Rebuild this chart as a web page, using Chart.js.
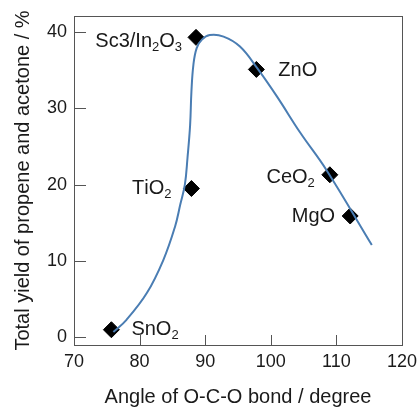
<!DOCTYPE html>
<html>
<head>
<meta charset="utf-8">
<script src="https://cdn.jsdelivr.net/npm/chart.js@4"></script>
<style>
  html, body { margin: 0; padding: 0; background: #fff; }
</style>
</head>
<body>
<canvas id="chart" width="418" height="407"></canvas>
<script>
// catalyst points ("_" marks a subscript character)
const catalysts = ['SnO_2', 'TiO_2', 'Sc3/In_2O_3', 'ZnO', 'CeO_2', 'MgO'];
const angles = [75.7, 87.9, 88.6, 97.8, 109.0, 112.1];
const yields = [1.0, 19.5, 39.3, 35.1, 21.3, 15.9];

// guide curve
const fitAngles = [76.0, 78.0, 81.1, 83.6, 85.4, 86.2, 86.9, 87.3, 87.7, 87.9, 88.2, 88.7, 89.5, 90.7, 92.8, 95.3, 97.9, 100.9, 104.5, 108.5, 115.4];
const fitYields = [0.7, 2.3, 5.8, 10.1, 14.5, 17.4, 20.0, 23.5, 27.8, 32.2, 35.7, 37.9, 39.0, 39.6, 39.4, 38.1, 35.3, 31.6, 26.8, 21.9, 12.1];

const xTicks = [70, 80, 90, 100, 110, 120];
const yTicks = [0, 10, 20, 30, 40];

const axisColor = '#555555';
const textColor = '#1a1a1a';
const fontFamily = '"Liberation Sans", Arial, sans-serif';

// draws frame + inward tick marks
const framePlugin = {
    id: 'frame',
    afterDraw(chart) {
        const { ctx, chartArea: a, scales } = chart;
        ctx.save();
        ctx.strokeStyle = axisColor;
        ctx.lineWidth = 1;
        ctx.beginPath();
        yTicks.forEach(v => {
            const py = Math.round(scales.y.getPixelForValue(v)) + 0.5;
            ctx.moveTo(a.left, py);
            ctx.lineTo(a.left + 12, py);
        });
        xTicks.forEach(v => {
            const px = Math.round(scales.x.getPixelForValue(v)) + 0.5;
            if (px <= a.left + 1 || px >= a.right - 1) return;
            ctx.moveTo(px, a.bottom);
            ctx.lineTo(px, a.bottom - 10);
        });
        ctx.stroke();
        ctx.strokeRect(Math.round(a.left) + 0.5, Math.round(a.top) + 0.5,
            Math.round(a.right - a.left), Math.round(a.bottom - a.top));
        ctx.restore();
    }
};

// point labels with subscripts
const labelPlugin = {
    id: 'pointLabels',
    afterDatasetsDraw(chart, args, opts) {
        const { ctx } = chart;
        const meta = chart.getDatasetMeta(1);
        const size = 20, subSize = 13;
        ctx.save();
        ctx.fillStyle = textColor;
        ctx.textBaseline = 'alphabetic';
        ctx.textAlign = 'left';
        meta.data.forEach((pt, i) => {
            const parts = [];
            const s = catalysts[i];
            for (let k = 0; k < s.length; k++) {
                if (s[k] === '_') { parts.push({ t: s[k + 1], sub: true }); k++; }
                else parts.push({ t: s[k], sub: false });
            }
            let w = 0;
            parts.forEach(p => {
                ctx.font = (p.sub ? subSize : size) + 'px ' + fontFamily;
                p.w = ctx.measureText(p.t).width;
                w += p.w;
            });
            const o = opts.place[i];
            let x = o.align === 'right' ? pt.x + o.dx - w : pt.x + o.dx;
            const base = pt.y + o.dy + 7;
            parts.forEach(p => {
                ctx.font = (p.sub ? subSize : size) + 'px ' + fontFamily;
                ctx.fillText(p.t, x, p.sub ? base + 4 : base);
                x += p.w;
            });
        });
        ctx.restore();
    }
};

const config = {
    type: 'scatter',
    data: {
        datasets: [
            {
                label: 'fit',
                data: fitAngles.map((x, i) => ({ x: x, y: fitYields[i] })),
                showLine: true,
                borderColor: '#4a7db3',
                borderWidth: 2,
                pointRadius: 0,
                tension: 0.4,
                order: 0
            },
            {
                label: 'catalysts',
                data: angles.map((x, i) => ({ x: x, y: yields[i] })),
                pointStyle: 'rectRot',
                pointRadius: 8,
                pointBackgroundColor: '#000',
                pointBorderColor: '#000',
                pointBorderWidth: 1,
                order: 1
            }
        ]
    },
    options: {
        responsive: false,
        animation: false,
        layout: { autoPadding: false, padding: { top: 16, right: 16, left: 0, bottom: 0 } },
        plugins: {
            legend: { display: false },
            tooltip: { enabled: false },
            pointLabels: {
                place: [
                    { align: 'left', dx: 20, dy: -2 },
                    { align: 'right', dx: -20, dy: -2 },
                    { align: 'right', dx: -14, dy: 3 },
                    { align: 'left', dx: 22, dy: 0 },
                    { align: 'right', dx: -15, dy: 1 },
                    { align: 'right', dx: -15, dy: -1 }
                ]
            }
        },
        scales: {
            x: {
                type: 'linear',
                min: 70,
                max: 120,
                afterBuildTicks: s => { s.ticks = xTicks.map(v => ({ value: v })); },
                afterFit: s => { s.height = 62; s.paddingLeft = 0; s.paddingRight = 0; },
                grid: { display: false, drawTicks: false },
                border: { display: false },
                ticks: { padding: 6, color: textColor, font: { family: fontFamily, size: 18 } },
                title: {
                    display: true,
                    text: 'Angle of O-C-O bond / degree',
                    color: textColor,
                    font: { family: fontFamily, size: 20 },
                    padding: { top: 0, bottom: -2 }
                }
            },
            y: {
                type: 'linear',
                min: -1,
                max: 42.1,
                afterBuildTicks: s => { s.ticks = yTicks.map(v => ({ value: v })); },
                afterFit: s => { s.width = 74; s.paddingTop = 0; s.paddingBottom = 0; },
                grid: { display: false, drawTicks: false },
                border: { display: false },
                ticks: { padding: 7, color: textColor, font: { family: fontFamily, size: 18 } },
                title: {
                    display: true,
                    text: 'Total yield of propene and acetone / %',
                    color: textColor,
                    font: { family: fontFamily, size: 20 },
                    padding: { top: 11, bottom: 0 }
                }
            }
        }
    },
    plugins: [framePlugin, labelPlugin]
};

new Chart(document.getElementById('chart').getContext('2d'), config);
</script>
</body>
</html>
